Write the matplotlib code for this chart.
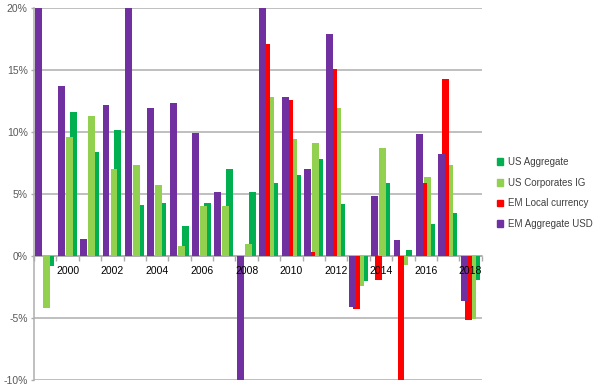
import matplotlib
matplotlib.use("Agg")
import matplotlib.pyplot as plt
import numpy as np
from matplotlib.patches import Patch

plt.rcParams['font.family'] = ['Liberation Sans', 'DejaVu Sans']

years = list(range(1999, 2019))
year_labels = [str(y) if y % 2 == 0 else "" for y in years]
nan = np.nan
em_agg_usd = [25.9, 13.7, 1.4, 12.2, 25.7, 11.9, 12.3, 9.9, 5.2, -10.9,
              28.2, 12.8, 7.0, 17.9, -4.1, 4.8, 1.3, 9.8, 8.2, -3.6]
em_local = [nan, nan, nan, nan, nan, nan, nan, nan, nan, nan,
            17.1, 12.6, 0.35, 15.1, -4.3, -1.9, -14.9, 5.9, 14.3, -5.2]
us_corp_ig = [-4.2, 9.6, 11.3, 7.0, 7.3, 5.7, 0.8, 4.0, 4.0, 1.0,
              12.8, 9.4, 9.1, 11.9, -2.4, 8.7, -0.7, 6.4, 7.3, -5.1]
us_agg = [-0.8, 11.6, 8.4, 10.2, 4.1, 4.3, 2.4, 4.3, 7.0, 5.2,
          5.9, 6.5, 7.8, 4.2, -2.0, 5.9, 0.5, 2.6, 3.5, -1.9]

C_PURPLE = "#7030A0"
C_RED = "#FF0000"
C_LGREEN = "#92D050"
C_GREEN = "#00B050"

fig = plt.figure(figsize=(6.0, 3.87), dpi=100)
ax = fig.add_axes([34/600, 1-380/387, (481.7-34)/600, (380-8)/387])

x = np.arange(len(years))
w = 0.31
a = 0.062
s = 0.178
# draw order: green bottom, then light green, red, purple on top
series = [
    (em_agg_usd, C_PURPLE, 0, 4),
    (em_local, C_RED, 1, 3),
    (us_corp_ig, C_LGREEN, 2, 2),
    (us_agg, C_GREEN, 3, 1),
]
for vals, col, k, z in series:
    ax.bar(x + a + k*s, vals, width=w, align='edge', color=col,
           linewidth=0, zorder=z)

ax.set_xlim(0, len(years))
ax.set_ylim(-10, 20)
ax.set_yticks(np.arange(-10, 21, 5))
ax.set_yticklabels([f"{v}%" for v in range(-10, 21, 5)])
ax.yaxis.grid(True, color="#ADADAD", linewidth=1.1, zorder=0)
ax.set_axisbelow(True)

for sp in ['top', 'right']:
    ax.spines[sp].set_visible(False)
ax.spines['left'].set_color("#ADADAD")
ax.spines['left'].set_linewidth(1.1)
ax.spines['bottom'].set_position(('data', 0))
ax.spines['bottom'].set_color("#ADADAD")
ax.spines['bottom'].set_linewidth(1.1)
ax.spines['bottom'].set_zorder(0.5)

ax.set_xticks(np.arange(0, len(years) + 1))
ax.set_xticklabels([])
ax.tick_params(axis='x', direction='out', length=3.5, color="#ADADAD", width=1.0)
ax.tick_params(axis='y', direction='out', length=2.5, color="#ADADAD", width=1.0,
               labelsize=7.5, labelcolor="#595959", pad=2)

for i, lab in enumerate(year_labels):
    if lab:
        ax.annotate(lab, xy=(i + 0.5, 0), xycoords='data', xytext=(0, -10.5),
                    textcoords='offset points', ha='center', va='center',
                    fontsize=7.5, color="#000000", zorder=10)

handles = [Patch(color=C_GREEN, label="US Aggregate"),
           Patch(color=C_LGREEN, label="US Corporates IG"),
           Patch(color=C_RED, label="EM Local currency"),
           Patch(color=C_PURPLE, label="EM Aggregate USD")]
fig.legend(handles=handles, loc='upper left', bbox_to_anchor=(497/600, 1-157/387),
           frameon=False, fontsize=7.0, handlelength=0.65, handleheight=0.65,
           handletextpad=0.45, labelspacing=1.1, borderpad=0, borderaxespad=0,
           labelcolor="#404040")

fig.savefig("out.png", dpi=100)
